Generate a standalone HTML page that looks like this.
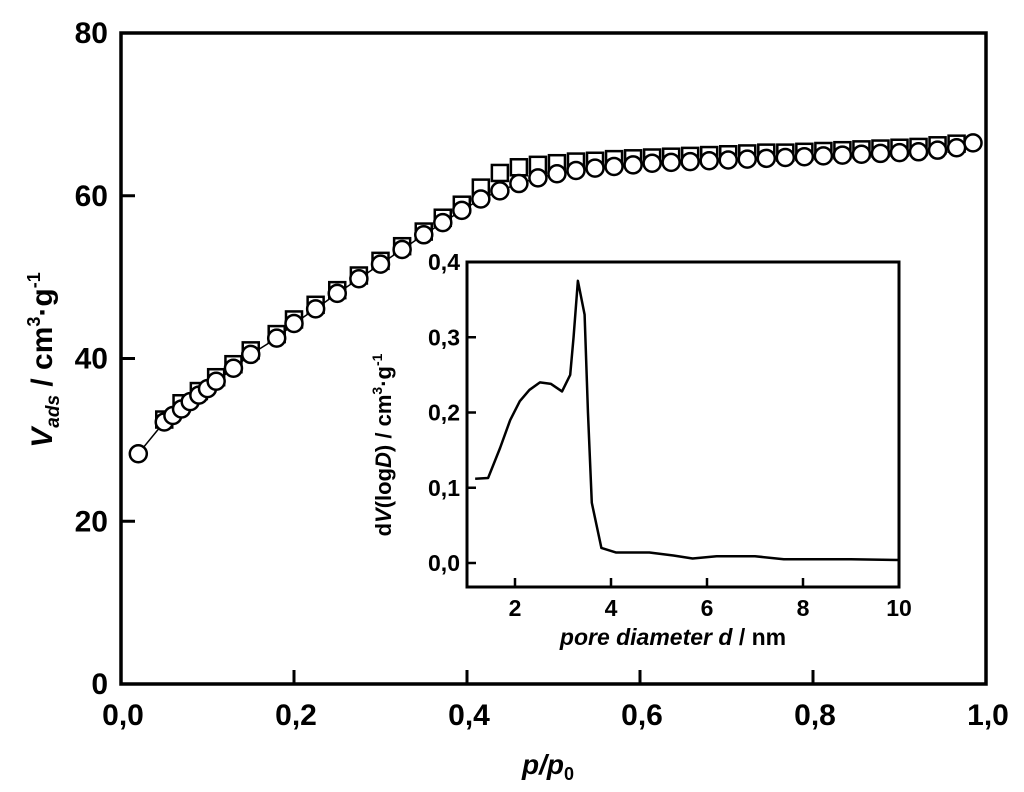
<!DOCTYPE html>
<html><head><meta charset="utf-8"><style>
html,body{margin:0;padding:0;background:#fff;}
svg{display:block;font-family:"Liberation Sans",Arial,sans-serif;}
</style></head><body>
<svg id="chart" width="1024" height="792" viewBox="0 0 1024 792" xmlns="http://www.w3.org/2000/svg"></svg>
<script>
// Main isotherm data
const adsP = [0.02,0.05,0.06,0.07,0.08,0.09,0.10,0.11,0.13,0.15,0.18,0.20,0.225,0.25,0.275,0.30,0.325,0.35,0.372,0.394,0.416,0.438,0.46,0.482,0.504,0.526,0.548,0.57,0.592,0.614,0.636,0.658,0.68,0.702,0.724,0.746,0.768,0.79,0.812,0.834,0.856,0.878,0.90,0.922,0.944,0.966,0.985];
const adsV = [28.3,32.2,33.0,33.8,34.7,35.5,36.3,37.2,38.8,40.5,42.5,44.3,46.1,48.0,49.8,51.6,53.4,55.2,56.7,58.2,59.6,60.6,61.5,62.2,62.7,63.1,63.4,63.6,63.8,64.0,64.1,64.2,64.3,64.4,64.5,64.6,64.7,64.8,64.9,65.0,65.1,65.2,65.3,65.4,65.6,65.9,66.5];
const desP = [0.05,0.07,0.09,0.11,0.13,0.15,0.18,0.20,0.225,0.25,0.275,0.30,0.325,0.35,0.372,0.394,0.416,0.438,0.46,0.482,0.504,0.526,0.548,0.57,0.592,0.614,0.636,0.658,0.68,0.702,0.724,0.746,0.768,0.79,0.812,0.834,0.856,0.878,0.90,0.922,0.944,0.966];
const desV = [32.5,34.5,36.0,37.7,39.3,41.0,43.0,44.8,46.6,48.4,50.2,52.0,53.8,55.6,57.3,58.9,61.0,62.8,63.5,63.8,64.0,64.2,64.3,64.5,64.6,64.7,64.8,64.9,65.0,65.1,65.2,65.3,65.3,65.4,65.5,65.6,65.7,65.8,65.9,66.0,66.2,66.4];
const xTicks = [0,0.2,0.4,0.6,0.8,1.0];
const xTickLabels = ["0,0","0,2","0,4","0,6","0,8","1,0"];
const yTicks = [0,20,40,60,80];
const yTickLabels = ["0","20","40","60","80"];
// Inset PSD data
const psdD = [1.17,1.44,1.69,1.9,2.1,2.3,2.52,2.75,2.98,3.15,3.22,3.31,3.45,3.52,3.6,3.8,4.1,4.8,5.3,5.7,6.2,7.0,7.6,8.2,9.0,10.0];
const psdV = [0.112,0.113,0.153,0.19,0.215,0.23,0.24,0.238,0.228,0.25,0.3,0.375,0.33,0.2,0.08,0.02,0.014,0.014,0.01,0.006,0.009,0.009,0.005,0.005,0.005,0.004];
const ixTicks = [2,4,6,8,10];
const ixTickLabels = ["2","4","6","8","10"];
const iyTicks = [0,0.1,0.2,0.3,0.4];
const iyTickLabels = ["0,0","0,1","0,2","0,3","0,4"];

const NS="http://www.w3.org/2000/svg";
const svg=document.getElementById('chart');
function mk(tag,attrs,parent){const e=document.createElementNS(NS,tag);for(const k in attrs)e.setAttribute(k,attrs[k]);(parent||svg).appendChild(e);return e;}
const L=121,R=986,T=33,B=684;
const sx=v=>L+v*(R-L);
const sy=v=>B-v/80*(B-T);
const iL=467,iR=899,iT=262,iB=587;
const isx=v=>iL+(v-1)/9*(iR-iL);
const isy=v=>563-v/0.4*(563-iT);

let frame=mk('rect',{x:L,y:T,width:R-L,height:B-T,fill:'none',stroke:'#000','stroke-width':3.5});


xTicks.forEach((t,i)=>{
  const l=mk('line',{x1:sx(t),x2:sx(t),y1:B,y2:B-14,stroke:'#000','stroke-width':3});
  
  
  const tx=mk('text',{x:sx(t)+2,y:725,'text-anchor':'middle','font-size':30,'font-weight':'bold'});
  tx.textContent=xTickLabels[i];
  
  
});
yTicks.forEach((t,i)=>{
  const l=mk('line',{x1:L,x2:L+14,y1:sy(t),y2:sy(t),stroke:'#000','stroke-width':3});
  
  
  const tx=mk('text',{x:108,y:sy(t)+10,'text-anchor':'end','font-size':30,'font-weight':'bold'});
  tx.textContent=yTickLabels[i];
  
  
});
const adsLine=mk('polyline',{points:adsP.map((p,i)=>sx(p)+','+sy(adsV[i])).join(' '),fill:'none',stroke:'#000','stroke-width':1.5});


desP.forEach((p,i)=>{
  const s=mk('rect',{x:sx(p)-8,y:sy(desV[i])-8,width:16,height:16,fill:'#fff',stroke:'#000','stroke-width':2.5});
  
  
});
adsP.forEach((p,i)=>{
  const c=mk('circle',{cx:sx(p),cy:sy(adsV[i]),r:8.5,fill:'#fff',stroke:'#000','stroke-width':2.5});
  
  
});
const yt=mk('text',{transform:'translate(52,360) rotate(-90)','text-anchor':'middle','font-size':30,'font-weight':'bold'});
yt.innerHTML='<tspan font-style="italic">V</tspan><tspan font-style="italic" font-size="19" dy="7">ads</tspan><tspan dy="-7"> / cm</tspan><tspan font-size="18" dy="-12">3</tspan><tspan dy="12">·g</tspan><tspan font-size="18" dy="-12">-1</tspan>';


const xt=mk('text',{x:548,y:774,'text-anchor':'middle','font-size':28,'font-weight':'bold','font-style':'italic'});
xt.innerHTML='p/p<tspan font-size="18" dy="6" font-style="normal">0</tspan>';



// inset
const ibg=mk('rect',{x:iL,y:iT,width:iR-iL,height:iB-iT,fill:'#fff',stroke:'#000','stroke-width':3});


ixTicks.forEach((t,i)=>{
  const l=mk('line',{x1:isx(t),x2:isx(t),y1:iB,y2:iB-9,stroke:'#000','stroke-width':2.5});
  
  
  const tx=mk('text',{x:isx(t),y:616,'text-anchor':'middle','font-size':23,'font-weight':'bold'});
  tx.textContent=ixTickLabels[i];
  
  
});
iyTicks.forEach((t,i)=>{
  const l=mk('line',{x1:iL,x2:iL+9,y1:isy(t),y2:isy(t),stroke:'#000','stroke-width':2.5});
  
  
  const tx=mk('text',{x:460,y:isy(t)+8,'text-anchor':'end','font-size':23,'font-weight':'bold'});
  tx.textContent=iyTickLabels[i];
  
  
});
const psd=mk('polyline',{points:psdD.map((d,i)=>isx(d)+','+isy(psdV[i])).join(' '),fill:'none',stroke:'#000','stroke-width':2.5,'stroke-linejoin':'round'});


const iyt=mk('text',{transform:'translate(391,445) rotate(-90)','text-anchor':'middle','font-size':22,'font-weight':'bold'});
iyt.innerHTML='d<tspan font-style="italic">V</tspan>(log<tspan font-style="italic">D</tspan>) / cm<tspan font-size="14" dy="-9">3</tspan><tspan dy="9">·g</tspan><tspan font-size="14" dy="-9">-1</tspan>';


const ixt=mk('text',{x:673,y:645,'text-anchor':'middle','font-size':23,'font-weight':'bold'});
ixt.innerHTML='<tspan font-style="italic">pore diameter d</tspan> / nm';


</script>
</body></html>
